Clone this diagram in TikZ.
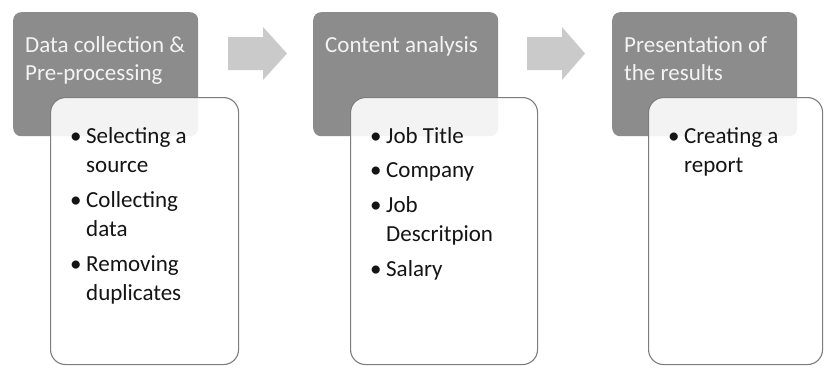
\documentclass[tikz,border=0pt]{standalone}
\usepackage{fontspec}
\setmainfont{Carlito}
\usetikzlibrary{calc}
\definecolor{hdrgray}{RGB}{140,140,140}
\definecolor{hdrtext}{RGB}{243,243,243}
\definecolor{arrowgray}{RGB}{202,202,202}
\definecolor{bodyline}{RGB}{125,125,125}
\definecolor{bodytext}{RGB}{20,20,20}
\newcommand{\bul}{\makebox[16pt][l]{•}}
\newcommand{\ind}{\hspace*{16pt}}
\tikzset{
  hdrbox/.style={fill=hdrgray, draw=none, rounded corners=8pt, anchor=north west,
    minimum width=185pt, minimum height=124pt, inner sep=0pt},
  hdrlabel/.style={anchor=north west, inner sep=0pt, align=left, text=hdrtext,
    font=\fontsize{23}{28}\selectfont},
  bodybox/.style={fill=white, fill opacity=0.9, draw=bodyline, draw opacity=1, line width=1.1pt,
    rounded corners=15pt, anchor=north west, minimum height=267pt, inner sep=0pt},
  bodylabel/.style={anchor=north west, inner sep=0pt, align=left, text=bodytext,
    font=\fontsize{23}{29.5}\selectfont},
  blockarrow/.style={fill=arrowgray, draw=none}
}
\begin{document}
\begin{tikzpicture}[x=1pt,y=-1pt]
\useasboundingbox (0,0) rectangle (824,367);
\fill[white] (0,0) rectangle (824,367);
% headers
\node[hdrbox] (h1) at (13,12) {};
\node[hdrbox] (h2) at (313,12) {};
\node[hdrbox] (h3) at (612,12) {};
\node[hdrlabel] (h1t) at (25,32.4) {\strut Data collection \&\\Pre-processing};
\node[hdrlabel] (h2t) at (325,32.4) {\strut Content analysis};
\node[hdrlabel] (h3t) at (624,32.4) {\strut Presentation of\\the results};
% bodies
\node[bodybox, minimum width=188pt] (b1) at (50,97) {};
\node[bodybox, minimum width=187pt] (b2) at (350,97) {};
\node[bodybox, minimum width=174pt] (b3) at (648,97) {};
\node[bodylabel] (b1t) at (70,122.35) {\strut\bul Selecting a\\\ind source\\[5pt]\bul Collecting\\\ind data\\[5pt]\bul Removing\\\ind duplicates};
\node[bodylabel] (b2t) at (370,122.35) {\strut\bul Job Title\\[5pt]\bul Company\\[5pt]\bul Job\\\ind Descritpion\\[5pt]\bul Salary};
\node[bodylabel] (b3t) at (668,122.35) {\strut\bul Creating a\\\ind report};
% block arrows
\fill[blockarrow] (228,37) -- (263,37) -- (263,27) -- (287,53.5) -- (263,80) -- (263,70) -- (228,70) -- cycle;
\fill[blockarrow] (527,37) -- (562,37) -- (562,27) -- (585,53.5) -- (562,80) -- (562,70) -- (527,70) -- cycle;
\end{tikzpicture}
\end{document}
